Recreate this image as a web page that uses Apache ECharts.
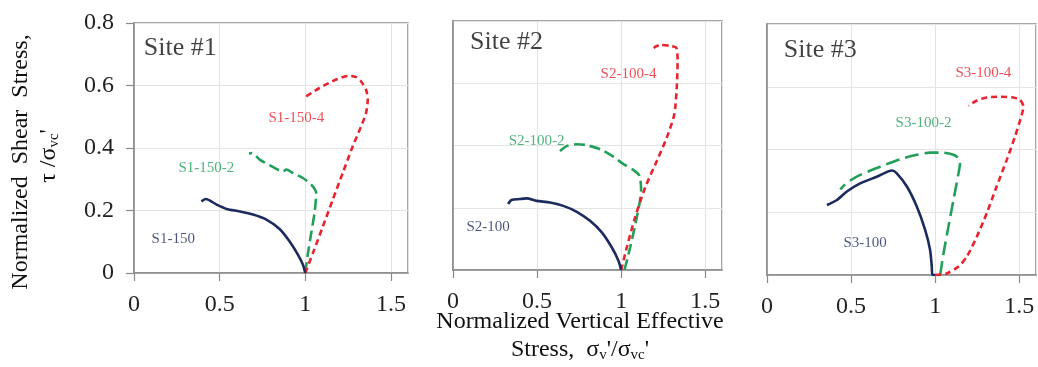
<!DOCTYPE html>
<html>
<head>
<meta charset="utf-8">
<script src="https://cdn.jsdelivr.net/npm/echarts@6/dist/echarts.min.js"></script>
<style>
  html, body { margin: 0; padding: 0; background: #fff; }
  #chart { width: 1038px; height: 367px; }
</style>
</head>
<body>
<div id="chart"></div>
<script>
// stress paths [sigma_v'/sigma_vc', tau/sigma_vc']
const xTicks = [0, 0.5, 1, 1.5]
const yTicks = [0, 0.2, 0.4, 0.6, 0.8]

// Site #1
const s1_150 = [[1.0, 0], [0.986, 0.027], [0.957, 0.059], [0.909, 0.101], [0.85, 0.141], [0.773, 0.171], [0.695, 0.187], [0.617, 0.197], [0.54, 0.205], [0.482, 0.219], [0.419, 0.237], [0.394, 0.229]]
const s1_150_2 = [[1.0, 0], [1.016, 0.064], [1.035, 0.128], [1.054, 0.192], [1.064, 0.256], [1.035, 0.283], [0.986, 0.304], [0.928, 0.32], [0.889, 0.331], [0.87, 0.325], [0.792, 0.345], [0.734, 0.363], [0.689, 0.384], [0.672, 0.382]]
const s1_150_4 = [[1.0, 0], [1.045, 0.064], [1.103, 0.149], [1.161, 0.235], [1.219, 0.32], [1.277, 0.405], [1.326, 0.469], [1.355, 0.512], [1.365, 0.555], [1.355, 0.587], [1.326, 0.613], [1.297, 0.627], [1.258, 0.631], [1.181, 0.619], [1.083, 0.592], [0.99, 0.56]]

// Site #2
const s2_100 = [[1.0, 0], [0.984, 0.03], [0.944, 0.073], [0.885, 0.121], [0.815, 0.158], [0.736, 0.187], [0.656, 0.206], [0.577, 0.217], [0.497, 0.222], [0.437, 0.23], [0.398, 0.228], [0.348, 0.225], [0.328, 0.212]]
const s2_100_2 = [[1.02, 0], [1.054, 0.073], [1.093, 0.169], [1.119, 0.255], [1.109, 0.303], [1.074, 0.321], [1.014, 0.34], [0.954, 0.364], [0.875, 0.388], [0.795, 0.401], [0.736, 0.404], [0.676, 0.398], [0.636, 0.382]]
const s2_100_4 = [[1.0, 0], [1.034, 0.073], [1.083, 0.169], [1.143, 0.265], [1.213, 0.351], [1.272, 0.426], [1.312, 0.49], [1.322, 0.522], [1.332, 0.597], [1.336, 0.672], [1.328, 0.714], [1.292, 0.72], [1.233, 0.723], [1.193, 0.714]]

// Site #3
const s3_100 = [[1.0, 0], [0.984, 0], [0.98, 0.027], [0.97, 0.08], [0.941, 0.143], [0.891, 0.218], [0.832, 0.282], [0.772, 0.324], [0.743, 0.333], [0.653, 0.313], [0.554, 0.292], [0.475, 0.266], [0.416, 0.239], [0.356, 0.223]]
const s3_100_2 = [[1.03, 0], [1.05, 0.069], [1.079, 0.154], [1.109, 0.239], [1.139, 0.324], [1.148, 0.356], [1.139, 0.372], [1.109, 0.383], [1.04, 0.39], [0.97, 0.39], [0.891, 0.383], [0.792, 0.369], [0.673, 0.345], [0.554, 0.319], [0.475, 0.294], [0.436, 0.273]]
const s3_100_4 = [[1.0, 0], [1.069, 0.005], [1.139, 0.027], [1.188, 0.058], [1.248, 0.122], [1.307, 0.197], [1.366, 0.282], [1.426, 0.367], [1.475, 0.441], [1.515, 0.51], [1.525, 0.537], [1.505, 0.558], [1.465, 0.566], [1.386, 0.568], [1.307, 0.566], [1.248, 0.556], [1.198, 0.539]]

const NAVY = '#1c2b5e'
const GREEN = '#22a05a'
const RED = '#e8242e'
const FONT = '"Liberation Serif", "Times New Roman", serif'

const curves = [
  { grid: 0, data: s1_150, color: NAVY, type: 'solid' },
  { grid: 0, data: s1_150_2, color: GREEN, type: [11, 5] },
  { grid: 0, data: s1_150_4, color: RED, type: [6, 4] },
  { grid: 1, data: s2_100, color: NAVY, type: 'solid' },
  { grid: 1, data: s2_100_2, color: GREEN, type: [11, 5] },
  { grid: 1, data: s2_100_4, color: RED, type: [6, 4] },
  { grid: 2, data: s3_100, color: NAVY, type: 'solid' },
  { grid: 2, data: s3_100_2, color: GREEN, type: [14, 6] },
  { grid: 2, data: s3_100_4, color: RED, type: [6, 4] }
]

// text annotations placed in data coordinates
const notes = [
  { grid: 0, text: 'Site #1', at: [0.27, 0.72], color: '#111', size: 26 },
  { grid: 0, text: 'S1-150-4', at: [0.948, 0.496], color: RED, size: 15 },
  { grid: 0, text: 'S1-150-2', at: [0.423, 0.336], color: GREEN, size: 15 },
  { grid: 0, text: 'S1-150', at: [0.229, 0.109], color: NAVY, size: 15 },
  { grid: 1, text: 'Site #2', at: [0.318, 0.733], color: '#111', size: 26 },
  { grid: 1, text: 'S2-100-4', at: [1.044, 0.629], color: RED, size: 15 },
  { grid: 1, text: 'S2-100-2', at: [0.497, 0.415], color: GREEN, size: 15 },
  { grid: 1, text: 'S2-100', at: [0.209, 0.137], color: NAVY, size: 15 },
  { grid: 2, text: 'Site #3', at: [0.317, 0.717], color: '#111', size: 26 },
  { grid: 2, text: 'S3-100-4', at: [1.287, 0.643], color: RED, size: 15 },
  { grid: 2, text: 'S3-100-2', at: [0.931, 0.484], color: GREEN, size: 15 },
  { grid: 2, text: 'S3-100', at: [0.584, 0.103], color: NAVY, size: 15 }
]

const grids = [
  { left: 134, top: 23, width: 274, height: 250 },
  { left: 453, top: 21, width: 269, height: 249 },
  { left: 767, top: 24, width: 269, height: 251 }
]

const chart = echarts.init(document.getElementById('chart'), null, { renderer: 'canvas' })

const gridLine = { show: true, lineStyle: { color: '#e4e4e4', width: 1 } }
const axisLine = { show: true, lineStyle: { color: '#8a8a8a', width: 1.5 } }

chart.setOption({
  animation: false,
  textStyle: { fontFamily: FONT },
  grid: grids.map(g => Object.assign({ show: true, borderColor: '#8a8a8a', borderWidth: 1.5, backgroundColor: 'transparent' }, g)),
  xAxis: grids.map((g, i) => ({
    type: 'value',
    gridIndex: i,
    min: xTicks[0],
    max: 1.6,
    interval: 0.5,
    axisLine: axisLine,
    axisTick: { show: true, inside: false, length: 8, lineStyle: { color: '#8a8a8a', width: 1.2 } },
    axisLabel: { color: '#222', fontSize: 24, fontFamily: FONT, margin: 20, showMaxLabel: false },
    splitLine: gridLine
  })),
  yAxis: grids.map((g, i) => ({
    type: 'value',
    gridIndex: i,
    min: yTicks[0],
    max: yTicks[yTicks.length - 1],
    interval: 0.2,
    axisLine: axisLine,
    axisTick: { show: i === 0, length: 8, lineStyle: { color: '#8a8a8a', width: 1.2 } },
    axisLabel: { show: i === 0, color: '#222', fontSize: 24, fontFamily: FONT, margin: 20 },
    splitLine: gridLine
  })),
  series: curves.map(c => ({
    type: 'line',
    xAxisIndex: c.grid,
    yAxisIndex: c.grid,
    data: c.data,
    showSymbol: false,
    smooth: 0.25,
    lineStyle: { color: c.color, width: 2.6, type: c.type },
    z: c.color === NAVY ? 3 : 2
  })).concat(notes.map(n => ({
    type: 'scatter',
    xAxisIndex: n.grid,
    yAxisIndex: n.grid,
    data: [n.at],
    symbolSize: 0,
    silent: true,
    label: {
      show: true,
      position: 'inside',
      formatter: n.text,
      color: n.color,
      fontSize: n.size,
      fontFamily: FONT
    },
    z: 5
  }))),
  graphic: [
    {
      type: 'text',
      x: 21, y: 162, rotation: Math.PI / 2,
      style: { text: 'Normalized  Shear  Stress,', fill: '#111', font: '24px ' + FONT, align: 'center', verticalAlign: 'middle' }
    },
    {
      type: 'text',
      x: 49, y: 156, rotation: Math.PI / 2,
      style: {
        text: '{b|τ /σ}{s|vc}{b|\'}',
        align: 'center', verticalAlign: 'middle',
        rich: {
          b: { fill: '#111', fontSize: 24, fontFamily: FONT },
          s: { fill: '#111', fontSize: 15, fontFamily: FONT, padding: [10, 0, 0, 0] }
        }
      }
    },
    {
      type: 'text',
      x: 580, y: 322,
      style: { text: 'Normalized Vertical Effective', fill: '#111', font: '24px ' + FONT, align: 'center', verticalAlign: 'middle' }
    },
    {
      type: 'text',
      x: 580, y: 350,
      style: {
        text: '{b|Stress,  σ}{s|v}{b|\'/σ}{s|vc}{b|\'}',
        align: 'center', verticalAlign: 'middle',
        rich: {
          b: { fill: '#111', fontSize: 24, fontFamily: FONT },
          s: { fill: '#111', fontSize: 15, fontFamily: FONT, padding: [10, 0, 0, 0] }
        }
      }
    }
  ]
})
</script>
</body>
</html>
